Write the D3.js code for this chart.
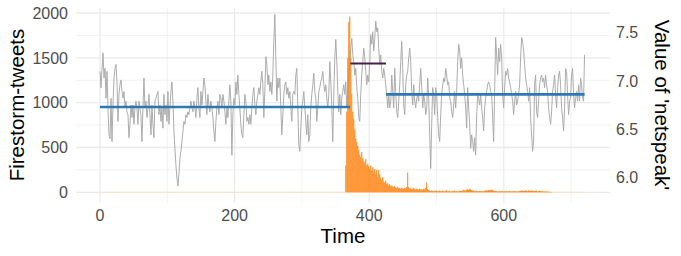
<!DOCTYPE html>
<html><head><meta charset="utf-8">
<script src="https://cdn.jsdelivr.net/npm/d3@7"></script>
<style>body{margin:0;background:#fff}svg{display:block}text{font-family:"Liberation Sans",Arial,sans-serif}</style>
</head><body>
<svg id="c" width="681" height="256"></svg>
<script>
// ---- data ----
const timeStart = 0, timeEnd = 720;
const netspeak = [
7.10,6.93,7.12,7.29,7.03,7.13,6.82,7.10,6.72,6.44,6.40,6.82,6.37,6.75,7.03,7.13,7.17,6.99,6.58,6.86,6.96,7.01,6.89,6.82,6.89,6.72,6.79,6.68,6.65,6.41,6.55,6.75,6.62,6.75,6.55,6.72,6.79,6.72,6.55,6.79,6.72,6.65,6.37,6.72,7.03,6.72,6.79,6.62,6.72,6.86,6.65,6.44,6.75,6.55,6.41,6.79,6.82,6.86,
6.89,6.65,6.75,6.58,6.72,6.51,6.86,6.65,6.75,6.58,6.89,6.55,6.72,6.89,6.99,6.79,6.48,6.30,6.13,5.99,5.91,6.03,6.20,6.27,6.37,6.48,6.58,6.55,6.65,6.62,6.68,6.65,6.72,6.79,6.72,6.68,6.79,6.72,6.62,6.82,6.93,6.72,6.62,6.89,6.75,6.89,7.03,6.96,6.79,6.65,6.86,6.75,6.68,6.79,6.72,6.62,6.48,6.37,6.58,6.72,6.79,6.65,
6.86,6.82,6.72,6.86,6.79,6.68,6.55,6.72,6.62,6.79,6.96,6.79,6.23,6.65,6.82,6.75,6.99,6.86,7.06,6.86,6.72,6.55,6.44,6.41,6.65,6.86,6.79,6.58,6.62,6.55,6.65,6.55,6.72,6.86,6.93,6.75,6.65,6.79,6.86,6.93,6.86,6.99,7.10,6.96,6.62,6.89,7.25,7.17,6.96,7.06,6.89,6.99,6.86,7.06,7.41,7.69,7.24,6.79,7.03,6.93,7.03,6.72,
6.44,6.65,6.86,6.96,6.99,6.86,6.93,6.82,6.89,6.72,6.58,6.86,6.89,6.86,7.06,7.13,6.72,6.34,6.27,6.51,6.72,6.79,6.89,6.72,6.58,6.44,6.65,6.37,6.44,6.72,6.86,6.96,7.08,6.89,6.82,6.58,6.72,6.89,6.93,6.99,7.03,7.10,6.96,6.89,6.96,6.82,6.72,6.86,7.20,6.99,6.72,6.37,6.86,7.24,7.43,7.20,6.89,6.68,6.86,6.65,6.82,6.89,
6.96,6.86,6.99,6.72,6.89,7.06,7.17,7.34,7.44,7.27,7.20,7.06,7.13,6.93,6.82,6.62,6.58,6.86,7.06,7.20,7.34,7.24,7.10,6.96,7.06,6.99,7.20,7.48,7.38,7.51,7.31,7.44,7.62,7.51,7.55,7.34,7.17,7.27,7.10,7.03,7.13,7.06,6.96,6.86,6.72,6.86,6.72,6.79,7.06,6.89,6.72,7.13,6.89,6.68,6.62,6.79,6.96,7.20,7.41,7.13,6.75,6.65,
6.96,7.06,7.10,7.24,7.34,7.20,6.89,6.75,6.96,6.79,6.72,6.82,6.86,6.79,6.96,7.13,6.93,6.72,6.86,6.79,6.65,6.72,7.03,6.82,6.44,6.09,6.55,6.93,6.86,6.65,6.93,6.86,6.62,6.44,6.37,6.65,6.86,6.96,7.03,6.99,7.13,7.06,6.96,6.99,6.82,6.79,6.68,6.62,6.75,6.89,6.72,6.89,7.20,7.38,7.31,7.13,7.24,7.06,6.96,6.86,6.72,6.51,
6.93,6.72,6.55,6.30,6.44,6.37,6.27,6.41,6.23,6.65,6.86,6.82,6.75,6.86,6.72,6.62,6.48,6.72,6.82,6.89,6.96,6.99,6.96,6.89,6.86,6.62,6.37,6.89,7.45,7.27,7.06,7.34,7.20,7.38,7.24,6.86,6.72,6.93,7.10,7.06,7.13,7.03,6.99,6.93,6.86,6.79,6.65,6.79,6.89,6.75,6.79,6.86,6.96,7.24,7.45,7.41,7.31,7.17,7.03,6.96,6.89,6.79,
6.93,6.62,6.44,6.27,6.37,6.96,7.06,6.68,6.62,6.79,6.96,7.03,7.06,6.99,7.03,6.93,7.06,6.96,6.89,6.72,6.62,6.55,6.68,6.89,6.96,7.06,6.86,6.72,6.93,7.06,7.10,6.96,6.72,6.62,6.48,6.72,7.13,7.10,6.86,6.65,6.79,6.82,7.06,7.13,6.86,6.72,6.82,6.89,6.79,6.96,6.79,7.03,6.96,6.82,6.79,7.27
];
const tweetStartIndex = 246; // first firestorm sample on the same time grid
const tweets = [
300,900,1500,1900,1960,1500,1100,900,820,700,600,560,520,470,420,390,450,380,350,330,
370,300,320,290,260,300,240,280,220,260,200,250,180,250,200,160,140,170,120,110,
130,95,100,80,90,70,75,65,60,70,55,50,60,45,50,40,50,45,40,50,
45,60,220,60,40,45,35,40,50,35,30,40,35,30,40,30,35,30,40,35,
50,110,35,25,20,15,20,15,10,15,20,15,10,15,20,
15,10,20,12,8,15,25,10,12,18,10,8,15,12,20,10,14,8,12,18,
15,18,20,25,20,22,30,35,28,40,32,25,20,18,15,12,18,12,10,15,
12,15,10,12,16,20,22,18,25,28,22,30,24,20,16,14,12,10,9,12,
12,10,15,8,12,10,14,9,12,15,10,8,12,10,14,9,11,8,10,12,
15,18,20,15,18,22,16,12,20,18,15,16,20,12,16,14,18,10,12,16,
14,10,12,8,11,7,10,8,7,5,4,3
];
const meanSegments = [
  {from: 0, to: 371.5, value: 6.73, color: "#2a78b6"},
  {from: 425, to: 720, value: 6.86, color: "#2a78b6"}
];
const firestormSegment = {from: 372, to: 425, value: 7.18, color: "#43234d"};
const xTicks = [0, 200, 400, 600];
const xMinor = [100, 300, 500, 700];
const yTicks = [0, 500, 1000, 1500, 2000];
const yMinor = [250, 750, 1250, 1750];
const rTicks = [6.0, 6.5, 7.0, 7.5];

// ---- layout ----
const svg = d3.select("#c");
const panel = {l: 76, r: 610, t: 8, b: 203};
const x = d3.scaleLinear().domain([0, 700]).range([100, 571.1]);
const yL = d3.scaleLinear().domain([0, 2000]).range([192.3, 13]);
const yR = d3.scaleLinear().domain([6.0, 7.5]).range([177.3, 32.7]);
const step = (timeEnd - timeStart) / (netspeak.length - 1);
const tOf = i => timeStart + i * step;

// grid
const g = svg.append("g");
g.selectAll(".ym").data(yMinor).join("line")
  .attr("x1", panel.l).attr("x2", panel.r).attr("y1", d => yL(d)).attr("y2", d => yL(d))
  .attr("stroke", "#efefef").attr("stroke-width", 0.9);
g.selectAll(".xm").data(xMinor).join("line")
  .attr("y1", panel.t).attr("y2", panel.b).attr("x1", d => x(d)).attr("x2", d => x(d))
  .attr("stroke", "#efefef").attr("stroke-width", 0.9);
g.selectAll(".yM").data(yTicks).join("line")
  .attr("x1", panel.l).attr("x2", panel.r).attr("y1", d => yL(d)).attr("y2", d => yL(d))
  .attr("stroke", "#ebebeb").attr("stroke-width", 1.3);
g.selectAll(".xM").data(xTicks).join("line")
  .attr("y1", panel.t).attr("y2", panel.b).attr("x1", d => x(d)).attr("x2", d => x(d))
  .attr("stroke", "#ebebeb").attr("stroke-width", 1.3);

// netspeak line
svg.append("path").datum(netspeak)
  .attr("fill", "none").attr("stroke", "#a8a8a8").attr("stroke-width", 0.95)
  .attr("d", d3.line().x((d, i) => x(tOf(i))).y(d => yR(d)));

// zero baseline of firestorm series
svg.append("line").attr("x1", x(timeStart)).attr("x2", x(timeEnd))
  .attr("y1", yL(0)).attr("y2", yL(0)).attr("stroke", "#fde3cf").attr("stroke-width", 1.2);

// firestorm bars
const bw = 1.0;
svg.append("g").selectAll("rect").data(tweets).join("rect")
  .attr("x", (d, i) => x(tOf(tweetStartIndex + i)) - bw / 2)
  .attr("width", bw)
  .attr("y", d => yL(d))
  .attr("height", d => yL(0) - yL(d))
  .attr("fill", "#ff800e");

// mean segments
svg.append("g").selectAll("line").data(meanSegments).join("line")
  .attr("x1", d => x(d.from)).attr("x2", d => x(d.to))
  .attr("y1", d => yR(d.value)).attr("y2", d => yR(d.value))
  .attr("stroke", d => d.color).attr("stroke-width", 2.6);
svg.append("line")
  .attr("x1", x(firestormSegment.from)).attr("x2", x(firestormSegment.to))
  .attr("y1", yR(firestormSegment.value)).attr("y2", yR(firestormSegment.value))
  .attr("stroke", firestormSegment.color).attr("stroke-width", 2);

// axes labels
const tickCol = "#4d4d4d";
svg.append("g").selectAll("text").data(yTicks).join("text")
  .attr("x", 68).attr("y", d => yL(d)).attr("dy", "0.36em")
  .attr("text-anchor", "end").attr("font-size", 16).attr("fill", tickCol)
  .text(d => d);
svg.append("g").selectAll("text").data(xTicks).join("text")
  .attr("x", d => x(d)).attr("y", 221)
  .attr("text-anchor", "middle").attr("font-size", 16).attr("fill", tickCol)
  .text(d => d);
svg.append("g").selectAll("text").data(rTicks).join("text")
  .attr("x", 616).attr("y", d => yR(d)).attr("dy", "0.36em")
  .attr("text-anchor", "start").attr("font-size", 16).attr("fill", tickCol)
  .text(d => d3.format(".1f")(d));

svg.append("text").attr("x", 343).attr("y", 243).attr("text-anchor", "middle")
  .attr("font-size", 20.5).attr("fill", "#000").text("Time");
svg.append("text").attr("transform", "translate(24,105) rotate(-90)").attr("text-anchor", "middle")
  .attr("font-size", 20.5).attr("fill", "#000").text("Firestorm-tweets");
svg.append("text").attr("transform", "translate(655,105) rotate(90)").attr("text-anchor", "middle")
  .attr("font-size", 20.5).attr("fill", "#000").text("Value of 'netspeak'");
</script>
</body></html>
